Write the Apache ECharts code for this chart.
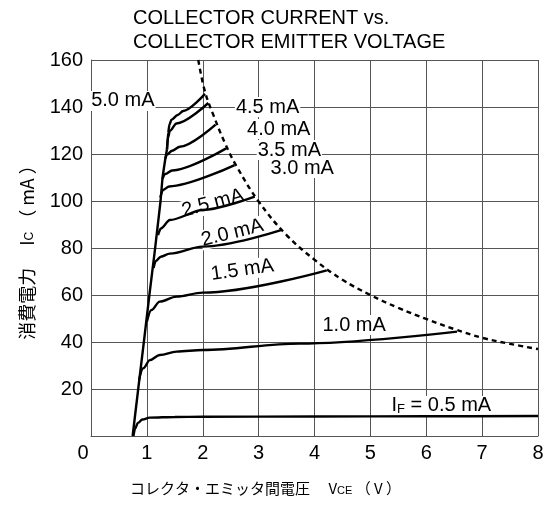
<!DOCTYPE html>
<html>
<head>
<meta charset="utf-8">
<script src="https://cdn.jsdelivr.net/npm/echarts@6/dist/echarts.min.js"></script>
<style>html,body{margin:0;padding:0;background:#fff}#c{width:554px;height:506px}</style>
</head>
<body>
<div id="c"></div>
<script>
// ---- data ----
const xTicks = [0, 1, 2, 3, 4, 5, 6, 7, 8];
const yTicks = [0, 20, 40, 60, 80, 100, 120, 140, 160];

const satV = [0.745, 0.845, 0.946, 1.045, 1.143, 1.245, 1.28, 1.33, 1.36];
const satI = [0, 20, 40, 60, 79, 100, 110, 118, 122];

const if05V = [0.76, 0.79, 0.84, 0.92, 1.05, 1.5, 2.0, 4.0, 6.0, 8.0];
const if05I = [0, 3.2, 5.6, 7.0, 7.8, 8.1, 8.2, 8.3, 8.4, 8.5];

const if10V = [0.86, 0.934, 1.054, 1.232, 1.53, 2.0, 3.73, 6.55];
const if10I = [23.8, 28.8, 32.3, 34.5, 35.9, 36.6, 39.3, 44.4];

const if15V = [1.0, 1.08, 1.23, 1.53, 2.0, 4.22];
const if15I = [48.6, 53.6, 57.2, 59.3, 61.0, 70.5];

const if20V = [1.12, 1.16, 1.25, 1.41, 2.0, 3.4];
const if20I = [71.5, 74.5, 76.3, 77.6, 80.6, 87.6];

const if25V = [1.2, 1.25, 1.41, 2.0, 2.93];
const if25I = [85.5, 88.3, 91.9, 96.2, 101.9];

const if30V = [1.24, 1.29, 1.4, 2.57];
const if30I = [101.5, 104.7, 106.2, 115.3];

const if35V = [1.28, 1.33, 1.45, 2.42];
const if35I = [109.5, 111.5, 113.0, 122.4];

const if40V = [1.33, 1.36, 1.45, 1.59, 2.23];
const if40I = [118, 119.8, 121.4, 123.1, 132.5];

const if45V = [1.36, 1.38, 1.41, 1.53, 2.10];
const if45I = [122, 127.0, 129.8, 133.0, 141.7];

const if50V = [1.36, 1.38, 1.405, 1.44, 1.55, 1.65, 2.04];
const if50I = [122, 129.0, 132.6, 134.6, 136.6, 138.3, 145.6];

const limitV = [1.92, 2.04, 2.2, 2.4, 2.6, 3.0, 3.5, 4.0, 4.5, 5.0, 5.5, 6.0, 6.5, 7.0, 7.5, 8.0];
const limitI = [160, 146.5, 136, 124.5, 115, 99.8, 85.5, 75, 66.5, 60, 54.5, 49.8, 45.5, 41.8, 39.2, 37.0];

const labelText = ['5.0 mA', '4.5 mA', '4.0 mA', '3.5 mA', '3.0 mA', '2.5 mA', '2.0 mA', '1.5 mA', '1.0 mA', '{i|I}{s|F}{i| = 0.5 mA}'];
const labelV = [0.57, 3.16, 3.36, 3.55, 3.78, 2.18, 2.53, 2.71, 4.71, 6.27];
const labelI = [142.6, 140.0, 130.6, 121.7, 114.0, 99.1, 86.4, 70.6, 47.2, 12.8];
const labelRot = [0, 0, 0, 0, 0, 15, 14, 8, 0, 0];

// ---- build ----
const FONT = '"Liberation Sans", Arial, "Noto Sans CJK JP", sans-serif';
const JFONT = '"Noto Sans CJK JP", "Liberation Sans", sans-serif';
const FS = 20;
function pts(v, i) { return v.map((x, k) => [x, i[k]]); }
function curve(v, i, smooth) {
  return {
    type: 'line', data: pts(v, i), showSymbol: false, symbol: 'none',
    smooth: smooth, smoothMonotone: 'x',
    lineStyle: { color: '#000', width: 2.4 }, z: 3, silent: true
  };
}

const chart = echarts.init(document.getElementById('c'), null, { renderer: 'canvas' });
const series = [
  curve(satV, satI, false),
  curve(if05V, if05I, 0.35),
  curve(if10V, if10I, 0.35),
  curve(if15V, if15I, 0.35),
  curve(if20V, if20I, 0.35),
  curve(if25V, if25I, 0.3),
  curve(if30V, if30I, 0.3),
  curve(if35V, if35I, 0.3),
  curve(if40V, if40I, 0.3),
  curve(if45V, if45I, 0.3),
  curve(if50V, if50I, 0.3),
  {
    type: 'line', data: pts(limitV, limitI), showSymbol: false, symbol: 'none',
    smooth: 0.4,
    lineStyle: { color: '#000', width: 2.4, type: [5, 4] }, z: 3, silent: true
  },
  {
    type: 'scatter', symbolSize: 0, z: 2, silent: true,
    itemStyle: { opacity: 1 },
    data: labelText.map((t, k) => ({
      value: [labelV[k], labelI[k]],
      label: {
        show: true, position: 'inside', formatter: t, rotate: labelRot[k],
        color: '#000', fontSize: FS, fontFamily: FONT, opacity: 1,
        backgroundColor: '#fff', padding: [0, 1],
        rich: {
          i: { fontSize: FS, fontFamily: FONT, color: '#000' },
          s: { fontSize: 13, fontFamily: FONT, color: '#000', verticalAlign: 'bottom', padding: [5, 0, 0, 0] }
        }
      }
    }))
  }
];

chart.setOption({
  animation: false,
  backgroundColor: '#fff',
  title: {
    text: 'COLLECTOR CURRENT vs.\nCOLLECTOR EMITTER VOLTAGE',
    left: 133, top: 6, padding: 0,
    textStyle: { fontSize: FS, fontWeight: 'normal', color: '#000', fontFamily: FONT, lineHeight: 24 }
  },
  grid: { left: 91, right: 16, top: 60, bottom: 70, containLabel: false },
  xAxis: {
    type: 'value', min: xTicks[0], max: xTicks[xTicks.length - 1], interval: 1,
    axisLine: { show: true, lineStyle: { color: '#555', width: 1 } },
    axisTick: { show: false },
    splitLine: { show: true, lineStyle: { color: '#555', width: 1 } },
    axisLabel: {
      margin: 7, color: '#000', fontSize: FS, fontFamily: FONT,
      formatter: v => (v === 0 ? '{z|0}' : String(v)),
      rich: { z: { fontSize: FS, fontFamily: FONT, color: '#000', padding: [0, 16, 0, 0] } }
    },
    name: '{j|コレクタ・エミッタ間電圧　 V}{s|CE}{j| （ V ）}',
    nameLocation: 'middle', nameGap: 45,
    nameTextStyle: {
      padding: [0, 98, 0, 0],
      rich: {
        j: { fontSize: 15, color: '#000', fontFamily: JFONT },
        s: { fontSize: 11, color: '#000', fontFamily: FONT, verticalAlign: 'bottom', padding: [4, 0, 0, 0] }
      }
    }
  },
  yAxis: {
    type: 'value', min: yTicks[0], max: yTicks[yTicks.length - 1], interval: 20,
    axisLine: { show: true, lineStyle: { color: '#555', width: 1 } },
    axisTick: { show: false },
    splitLine: { show: true, lineStyle: { color: '#555', width: 1 } },
    axisLabel: {
      margin: 8, color: '#000', fontSize: FS, fontFamily: FONT,
      formatter: v => (v === 0 ? '' : String(v))
    },
    name: '{j|消費電力　 I}{s|C}{j| （ mA ）}',
    nameLocation: 'middle', nameGap: 55, nameRotate: 90,
    nameTextStyle: {
      rich: {
        j: { fontSize: 18, color: '#000', fontFamily: JFONT },
        s: { fontSize: 12, color: '#000', fontFamily: FONT, verticalAlign: 'bottom', padding: [4, 0, 0, 0] }
      }
    }
  },
  series: series
});
</script>
</body>
</html>
